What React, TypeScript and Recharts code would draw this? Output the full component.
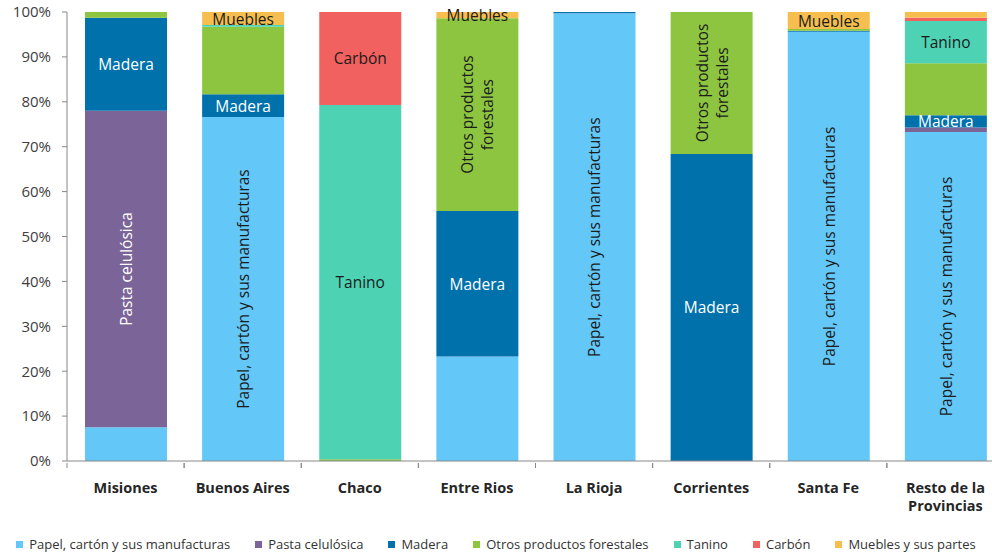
import { BarChart, Bar, XAxis, YAxis, LabelList } from 'recharts';

// categorías (el salto de línea marca el corte de la etiqueta)
const categories = ['Misiones', 'Buenos Aires', 'Chaco', 'Entre Rios', 'La Rioja', 'Corrientes', 'Santa Fe', 'Resto de la\nProvincias'];

// participación (%) de cada rubro por provincia
const papel = [7.5, 76.6, 0, 23.3, 99.7, 0, 95.6, 73.3];
const pasta = [70.5, 0, 0, 0, 0, 0, 0, 1.0];
const madera = [20.7, 5.1, 0, 32.4, 0.3, 68.4, 0.2, 2.7];
const otros = [1.3, 15.0, 0.4, 42.9, 0, 31.6, 0.4, 11.6];
const tanino = [0, 0.4, 78.9, 0, 0, 0, 0, 9.4];
const carbon = [0, 0, 20.7, 0, 0, 0, 0, 0.7];
const muebles = [0, 2.9, 0, 1.4, 0, 0, 3.8, 1.3];

const yTicks = [0, 10, 20, 30, 40, 50, 60, 70, 80, 90, 100];

// etiquetas dentro de las barras
const PAPEL_TXT = 'Papel, cartón y sus manufacturas';
const OTROS_TXT = 'Otros productos\nforestales';
const barLabels: Record<string, (string | null)[]> = {
  papel: [null, PAPEL_TXT, null, null, PAPEL_TXT, null, PAPEL_TXT, PAPEL_TXT],
  pasta: ['Pasta celulósica', null, null, null, null, null, null, null],
  madera: ['Madera', 'Madera', null, 'Madera', null, 'Madera', null, 'Madera'],
  otros: [null, null, null, OTROS_TXT, null, OTROS_TXT, null, null],
  tanino: [null, null, 'Tanino', null, null, null, null, 'Tanino'],
  carbon: [null, null, 'Carbón', null, null, null, null, null],
  muebles: [null, 'Muebles', null, 'Muebles', null, null, 'Muebles', null],
};

const series = [
  { key: 'papel', name: 'Papel, cartón y sus manufacturas', color: '#63C7F7', values: papel, vertical: true, textColor: '#1c1c1c' },
  { key: 'pasta', name: 'Pasta celulósica', color: '#7B6497', values: pasta, vertical: true, textColor: '#ffffff' },
  { key: 'madera', name: 'Madera', color: '#0071AB', values: madera, vertical: false, textColor: '#ffffff' },
  { key: 'otros', name: 'Otros productos forestales', color: '#8DC541', values: otros, vertical: true, textColor: '#1c1c1c' },
  { key: 'tanino', name: 'Tanino', color: '#4DD3B4', values: tanino, vertical: false, textColor: '#1c1c1c' },
  { key: 'carbon', name: 'Carbón', color: '#F0615F', values: carbon, vertical: false, textColor: '#1c1c1c' },
  { key: 'muebles', name: 'Muebles y sus partes', color: '#F6BE4F', values: muebles, vertical: false, textColor: '#1c1c1c' },
];

const data = categories.map((c, i) => {
  const row: Record<string, any> = { name: c };
  series.forEach((s) => (row[s.key] = s.values[i]));
  return row;
});

const CHART_W = 1010;
const CHART_H = 554;
const Y_W = 67;
const MARGIN = { top: 12, right: 6, left: 0, bottom: 0 };
const BAND = (CHART_W - Y_W - MARGIN.right) / categories.length;
const FONT = '"Open Sans", sans-serif';

const CategoryTick = ({ x, y, payload }: any) => {
  const lines = String(payload.value).split('\n');
  return (
    <g>
      <line x1={x - BAND / 2} x2={x - BAND / 2} y1={y} y2={y + 5} stroke="#888" />
      <line x1={x + BAND / 2} x2={x + BAND / 2} y1={y} y2={y + 5} stroke="#888" />
      <text x={x} y={y + 30} textAnchor="middle" fontFamily={FONT} fontSize={14.5} fontWeight={700} fill="#262626">
        {lines.map((l, i) => (
          <tspan key={i} x={x} dy={i === 0 ? 0 : 18}>
            {l}
          </tspan>
        ))}
      </text>
    </g>
  );
};

const makeLabel = (s: (typeof series)[number]) => (props: any) => {
  const vb = props.viewBox || props;
  const x = vb.x ?? props.x;
  const y = vb.y ?? props.y;
  const w = vb.width ?? props.width;
  const h = vb.height ?? props.height;
  const cx = x + w / 2;
  const cy = y + h / 2;
  // la posición horizontal indica a qué provincia pertenece el segmento
  const idx = Math.round((cx - Y_W - BAND / 2) / BAND);
  const txt = barLabels[s.key][idx];
  if (!txt) return null;
  const lines = txt.split('\n');
  const lh = 20;
  return (
    <text
      x={cx}
      y={cy}
      textAnchor="middle"
      dominantBaseline="central"
      fontFamily={FONT}
      fontSize={15.5}
      fill={s.textColor}
      transform={s.vertical ? `rotate(-90 ${cx} ${cy})` : undefined}
    >
      {lines.map((l, i) => (
        <tspan key={i} x={cx} dy={i === 0 ? -((lines.length - 1) / 2) * lh : lh}>
          {l}
        </tspan>
      ))}
    </text>
  );
};

export default function App() {
  return (
    <div style={{ position: 'absolute', left: 0, top: 0, width: 992, height: 554, overflow: 'hidden', background: '#fff' }}>
      <BarChart width={CHART_W} height={CHART_H} data={data} margin={MARGIN} barSize={82}>
        <XAxis
          dataKey="name"
          interval={0}
          height={CHART_H - 461 - MARGIN.top + 12}
          tickLine={false}
          tickSize={0}
          tick={<CategoryTick />}
          stroke="#888"
        />
        <YAxis
          width={Y_W}
          domain={[0, 100]}
          ticks={yTicks}
          tickFormatter={(v) => `${v}%`}
          tickSize={5}
          tickMargin={11}
          stroke="#888"
          tick={{ fontFamily: FONT, fontSize: 15, fill: '#404040' }}
        />
        {series.map((s) => (
          <Bar key={s.key} dataKey={s.key} name={s.name} stackId="a" fill={s.color} isAnimationActive={false}>
            <LabelList dataKey={s.key} content={makeLabel(s)} />
          </Bar>
        ))}
      </BarChart>
      <div
        style={{
          position: 'absolute',
          left: 0,
          top: 536,
          width: 992,
          display: 'flex',
          justifyContent: 'center',
          gap: 25,
          fontFamily: FONT,
          fontSize: 13,
          color: '#333',
          lineHeight: '17px',
        }}
      >
        {series.map((s) => (
          <div key={s.key} style={{ display: 'flex', alignItems: 'center', gap: 6 }}>
            <span style={{ width: 7, height: 7, background: s.color, display: 'inline-block' }} />
            <span>{s.name}</span>
          </div>
        ))}
      </div>
    </div>
  );
}
